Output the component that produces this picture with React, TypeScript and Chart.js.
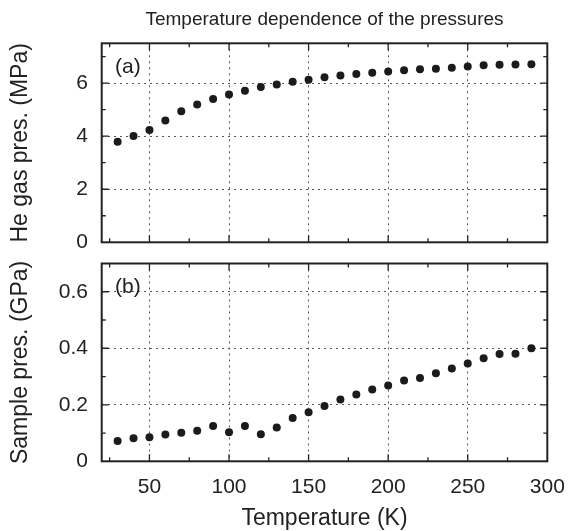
import React, { useEffect, useRef } from 'react';
import { Chart, registerables } from 'chart.js';

Chart.register(...registerables);

// ---------- data ----------
const chartTitle = 'Temperature dependence of the pressures';
const xTitle = 'Temperature (K)';
const topYTitle = 'He gas pres. (MPa)';
const bottomYTitle = 'Sample pres. (GPa)';
const topPanelLabel = '(a)';
const bottomPanelLabel = '(b)';

const temperatures = [30, 40, 50, 60, 70, 80, 90, 100, 110, 120, 130, 140, 150, 160, 170, 180, 190, 200, 210, 220, 230, 240, 250, 260, 270, 280, 290];
const heGasPressure = [3.79, 4.01, 4.23, 4.59, 4.94, 5.19, 5.40, 5.57, 5.71, 5.85, 5.95, 6.05, 6.13, 6.22, 6.29, 6.34, 6.39, 6.44, 6.48, 6.52, 6.54, 6.58, 6.63, 6.67, 6.69, 6.70, 6.71];
const samplePressure = [0.072, 0.082, 0.085, 0.095, 0.101, 0.108, 0.125, 0.103, 0.125, 0.096, 0.12, 0.153, 0.174, 0.196, 0.219, 0.236, 0.254, 0.268, 0.286, 0.295, 0.312, 0.328, 0.346, 0.365, 0.380, 0.381, 0.400];

const xMajorTicks = [50, 100, 150, 200, 250, 300];
const xMinorTicks = [25, 75, 125, 175, 225, 275];
const topYMajorTicks = [0, 2, 4, 6];
const topYMinorTicks = [1, 3, 5, 7];
const bottomYMajorTicks = [0, 0.2, 0.4, 0.6];
const bottomYMinorTicks = [0.1, 0.3, 0.5];

// ---------- style ----------
const FONT = '"Liberation Sans", Arial, Helvetica, sans-serif';
const INK = '#222222';
const GRID = '#555555';
const W = 569;
const H = 531;
const PLOT_LEFT = 101.7;
const PLOT_RIGHT_PAD = 21.7;
const TOP_AREA_BOTTOM = 242.3;
const BOTTOM_AREA_TOP = 263.5;
const BOTTOM_AREA_BOTTOM = 461.3;

function framePlugin(id: string, xMinor: number[], yMinor: number[], label: string) {
  return {
    id,
    afterDraw(chart: any) {
      const { ctx, chartArea } = chart;
      const { left, right, top, bottom } = chartArea;
      const xs = chart.scales.x;
      const ys = chart.scales.y;
      ctx.save();
      ctx.strokeStyle = INK;
      ctx.lineWidth = 1.3;
      const drawX = (v: number, len: number) => {
        const px = xs.getPixelForValue(v);
        if (px <= left + 1 || px >= right - 1) return;
        ctx.beginPath();
        ctx.moveTo(px, bottom);
        ctx.lineTo(px, bottom - len);
        ctx.moveTo(px, top);
        ctx.lineTo(px, top + len);
        ctx.stroke();
      };
      const drawY = (v: number, len: number) => {
        const py = ys.getPixelForValue(v);
        if (py <= top + 1 || py >= bottom - 1) return;
        ctx.beginPath();
        ctx.moveTo(left, py);
        ctx.lineTo(left + len, py);
        ctx.moveTo(right, py);
        ctx.lineTo(right - len, py);
        ctx.stroke();
      };
      xs.ticks.forEach((t: any) => drawX(t.value, 7));
      xMinor.forEach((v) => drawX(v, 4));
      ys.ticks.forEach((t: any) => drawY(t.value, 7));
      yMinor.forEach((v) => drawY(v, 4));
      ctx.lineWidth = 2;
      ctx.strokeRect(left, top, right - left, bottom - top);
      ctx.fillStyle = INK;
      ctx.font = `21px ${FONT}`;
      ctx.textAlign = 'left';
      ctx.textBaseline = 'alphabetic';
      ctx.fillText(label, left + 13.3, top + 29.5);
      ctx.restore();
    },
  };
}

const pointStyle = {
  showLine: false,
  pointRadius: 4,
  pointHoverRadius: 4,
  pointBackgroundColor: '#1b1b1b',
  pointBorderWidth: 0,
  borderColor: '#1b1b1b',
  backgroundColor: '#1b1b1b',
};

function xScale(showLabels: boolean, height: number) {
  return {
    type: 'linear',
    min: 20,
    max: 300,
    afterBuildTicks: (s: any) => {
      s.ticks = xMajorTicks.map((v) => ({ value: v }));
    },
    afterFit: (s: any) => {
      s.height = height;
      s.paddingLeft = 0;
      s.paddingRight = 0;
    },
    ticks: {
      display: showLabels,
      color: INK,
      font: { family: FONT, size: 21 },
      padding: 13,
      maxRotation: 0,
      autoSkip: false,
    },
    grid: { color: GRID, lineWidth: 1, drawTicks: false },
    border: { display: false, dash: [2, 4] },
    title: {
      display: showLabels,
      text: xTitle,
      color: INK,
      font: { family: FONT, size: 23, lineHeight: 1.0 },
      padding: { top: 0, bottom: 0.5 },
    },
  };
}

function yScale(min: number, max: number, ticks: number[], title: string, fmt: (v: number) => string) {
  return {
    type: 'linear',
    min,
    max,
    afterBuildTicks: (s: any) => {
      s.ticks = ticks.map((v) => ({ value: v }));
    },
    afterFit: (s: any) => {
      s.width = PLOT_LEFT;
      s.paddingTop = 0;
      s.paddingBottom = 0;
    },
    ticks: {
      color: INK,
      font: { family: FONT, size: 21 },
      padding: 13.7,
      callback: (v: any) => fmt(Number(v)),
    },
    grid: { color: GRID, lineWidth: 1, drawTicks: false },
    border: { display: false, dash: [2, 4] },
    title: {
      display: true,
      text: title,
      color: INK,
      font: { family: FONT, size: 23, lineHeight: 1.2 },
      padding: { top: 6.7, bottom: 0 },
    },
  };
}

export default function App() {
  const topRef = useRef<HTMLCanvasElement | null>(null);
  const bottomRef = useRef<HTMLCanvasElement | null>(null);

  useEffect(() => {
    if (!topRef.current || !bottomRef.current) return;

    const topChart = new Chart(topRef.current, {
      type: 'scatter',
      data: {
        datasets: [
          {
            label: topYTitle,
            data: temperatures.map((t, i) => ({ x: t, y: heGasPressure[i] })),
            ...pointStyle,
          },
        ],
      },
      options: {
        responsive: false,
        animation: false,
        layout: { padding: { left: 0, right: PLOT_RIGHT_PAD, top: 0, bottom: 0 } },
        plugins: {
          legend: { display: false },
          tooltip: { enabled: false },
          title: {
            display: true,
            fullSize: false,
            text: chartTitle,
            color: INK,
            font: { family: FONT, size: 19, weight: 'normal', lineHeight: 1.2 },
            padding: { top: 8.6, bottom: 11.9 },
          },
        },
        scales: {
          x: xScale(false, H - TOP_AREA_BOTTOM),
          y: yScale(0, 7.5, topYMajorTicks, topYTitle, (v) => String(v)),
        },
      } as any,
      plugins: [framePlugin('frameTop', xMinorTicks, topYMinorTicks, topPanelLabel)],
    });

    const bottomChart = new Chart(bottomRef.current, {
      type: 'scatter',
      data: {
        datasets: [
          {
            label: bottomYTitle,
            data: temperatures.map((t, i) => ({ x: t, y: samplePressure[i] })),
            ...pointStyle,
          },
        ],
      },
      options: {
        responsive: false,
        animation: false,
        layout: { padding: { left: 0, right: PLOT_RIGHT_PAD, top: BOTTOM_AREA_TOP, bottom: 0 } },
        plugins: {
          legend: { display: false },
          tooltip: { enabled: false },
          title: { display: false },
        },
        scales: {
          x: xScale(true, H - BOTTOM_AREA_BOTTOM),
          y: yScale(0, 0.7, bottomYMajorTicks, bottomYTitle, (v) => (v === 0 ? '0' : v.toFixed(1))),
        },
      } as any,
      plugins: [framePlugin('frameBottom', xMinorTicks, bottomYMinorTicks, bottomPanelLabel)],
    });

    return () => {
      topChart.destroy();
      bottomChart.destroy();
    };
  }, []);

  return (
    <div style={{ position: 'fixed', left: 0, top: 0, width: W, height: H, background: '#ffffff' }}>
      <canvas ref={bottomRef} width={W} height={H} style={{ position: 'absolute', left: 0, top: 0, width: W, height: H }} />
      <canvas ref={topRef} width={W} height={H} style={{ position: 'absolute', left: 0, top: 0, width: W, height: H }} />
    </div>
  );
}
